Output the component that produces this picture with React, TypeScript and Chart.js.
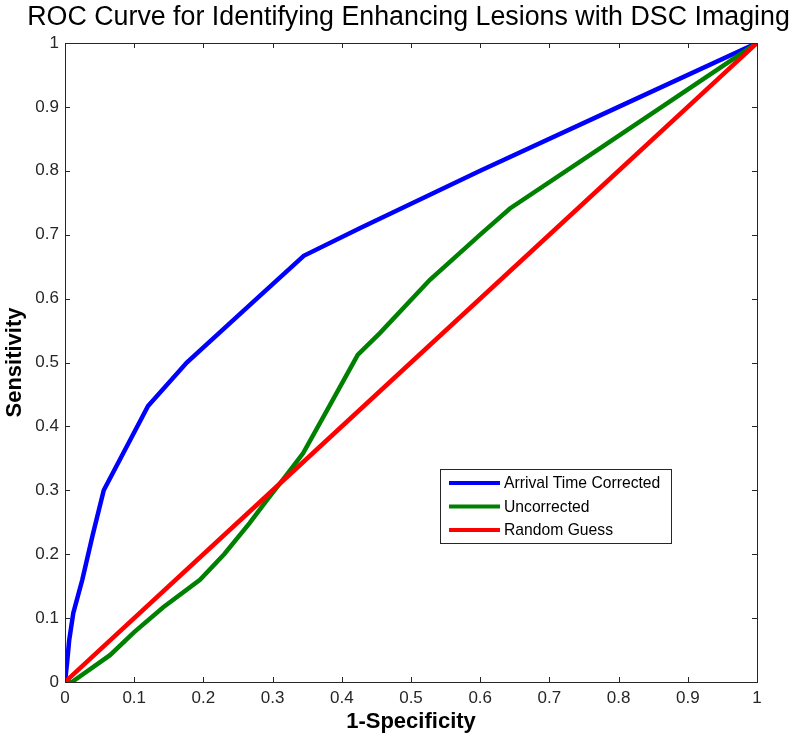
import React, { useEffect, useRef } from "react";
import { Chart, registerables } from "chart.js";

Chart.register(...registerables);

const chartTitle = "ROC Curve for Identifying Enhancing Lesions with DSC Imaging";
const xAxisTitle = "1-Specificity";
const yAxisTitle = "Sensitivity";
const tickLabels = ["0", "0.1", "0.2", "0.3", "0.4", "0.5", "0.6", "0.7", "0.8", "0.9", "1"];

const seriesNames = ["Arrival Time Corrected", "Uncorrected", "Random Guess"];
const seriesColors = ["#0000FF", "#008000", "#FF0000"];

const correctedX = [0, 0.003, 0.006, 0.012, 0.025, 0.04, 0.056, 0.09, 0.12, 0.176, 0.272, 0.345, 0.426, 0.6, 0.8, 1];
const correctedY = [0, 0.03, 0.065, 0.108, 0.16, 0.23, 0.3, 0.37, 0.432, 0.5, 0.595, 0.667, 0.71, 0.8, 0.9, 1];

const uncorrectedX = [0, 0.01, 0.065, 0.1, 0.142, 0.195, 0.23, 0.267, 0.292, 0.318, 0.344, 0.379, 0.423, 0.455, 0.527, 0.6, 0.643, 0.773, 1];
const uncorrectedY = [0, 0, 0.042, 0.078, 0.117, 0.16, 0.2, 0.249, 0.285, 0.321, 0.358, 0.426, 0.512, 0.546, 0.629, 0.7, 0.741, 0.835, 1];

const randomX = [0, 0.25, 0.5, 0.75, 1];
const randomY = [0, 0.25, 0.5, 0.75, 1];

const FONT = "'Liberation Sans', Arial, Helvetica, sans-serif";
const AXIS_COLOR = "#262626";

const toPoints = (xs: number[], ys: number[]) => xs.map((x, i) => ({ x, y: ys[i] }));

const titleShiftPlugin = {
  id: "titleShift",
  afterLayout(chart: any) {
    const tb = chart.titleBlock;
    if (tb) {
      tb.left = 20;
      tb.right = chart.width;
      tb.width = tb.right - tb.left;
    }
  },
};

const boxTicksPlugin = {
  id: "boxTicks",
  afterDatasetsDraw(chart: any) {
    const { ctx, chartArea } = chart;
    const { left, right, top, bottom } = chartArea;
    const xs = chart.scales.x;
    const ys = chart.scales.y;
    ctx.save();
    ctx.strokeStyle = AXIS_COLOR;
    ctx.lineWidth = 1;
    ctx.beginPath();
    ctx.rect(Math.round(left) + 0.5, Math.round(top) + 0.5, Math.round(right - left), Math.round(bottom - top));
    ctx.stroke();
    const len = 5;
    ctx.beginPath();
    for (let i = 0; i < tickLabels.length; i++) {
      const v = Number(tickLabels[i]);
      const px = Math.round(xs.getPixelForValue(v)) + 0.5;
      ctx.moveTo(px, bottom);
      ctx.lineTo(px, bottom - len);
      ctx.moveTo(px, top);
      ctx.lineTo(px, top + len);
      const py = Math.round(ys.getPixelForValue(v)) + 0.5;
      ctx.moveTo(left, py);
      ctx.lineTo(left + len, py);
      ctx.moveTo(right, py);
      ctx.lineTo(right - len, py);
    }
    ctx.stroke();
    ctx.restore();
  },
};

const insideLegendPlugin = {
  id: "insideLegend",
  afterDraw(chart: any) {
    const { ctx, chartArea } = chart;
    const bx = chartArea.left + 375;
    const by = chartArea.top + 426;
    const bw = 231;
    const bh = 74;
    ctx.save();
    ctx.fillStyle = "#FFFFFF";
    ctx.fillRect(bx, by, bw, bh);
    ctx.strokeStyle = AXIS_COLOR;
    ctx.lineWidth = 1;
    ctx.strokeRect(bx + 0.5, by + 0.5, bw, bh);
    ctx.font = `15.7px ${FONT}`;
    ctx.textBaseline = "middle";
    chart.data.datasets.forEach((ds: any, i: number) => {
      const y = by + 14 + i * 23.5;
      ctx.strokeStyle = ds.borderColor;
      ctx.lineWidth = 4;
      ctx.beginPath();
      ctx.moveTo(bx + 9, y);
      ctx.lineTo(bx + 60, y);
      ctx.stroke();
      ctx.fillStyle = "#000000";
      ctx.fillText(ds.label, bx + 64, y + 1);
    });
    ctx.restore();
  },
};

export default function App() {
  const canvasRef = useRef<HTMLCanvasElement | null>(null);

  useEffect(() => {
    if (!canvasRef.current) return;
    const chart = new Chart(canvasRef.current, {
      type: "scatter",
      data: {
        datasets: [
          {
            label: seriesNames[0],
            data: toPoints(correctedX, correctedY),
            borderColor: seriesColors[0],
            backgroundColor: seriesColors[0],
            showLine: true,
            borderWidth: 4.5,
            pointRadius: 0,
            order: 3,
          },
          {
            label: seriesNames[1],
            data: toPoints(uncorrectedX, uncorrectedY),
            borderColor: seriesColors[1],
            backgroundColor: seriesColors[1],
            showLine: true,
            borderWidth: 4.5,
            pointRadius: 0,
            order: 2,
          },
          {
            label: seriesNames[2],
            data: toPoints(randomX, randomY),
            borderColor: seriesColors[2],
            backgroundColor: seriesColors[2],
            showLine: true,
            borderWidth: 4.5,
            pointRadius: 0,
            order: 1,
          },
        ],
      },
      options: {
        responsive: false,
        animation: false,
        layout: { padding: { left: 0, right: 40, top: 0, bottom: 0 } },
        plugins: {
          legend: { display: false },
          tooltip: { enabled: false },
          title: {
            display: true,
            text: chartTitle,
            color: "#000000",
            font: { family: FONT, size: 26.8, weight: "normal" },
            padding: { top: 1.5, bottom: 9.34 },
          },
        },
        scales: {
          x: {
            type: "linear",
            min: 0,
            max: 1,
            afterFit: (scale: any) => {
              scale.height = 60;
            },
            grid: { display: false, drawTicks: false },
            border: { display: true, color: AXIS_COLOR, width: 1 },
            ticks: {
              stepSize: 0.1,
              padding: 6,
              color: AXIS_COLOR,
              font: { family: FONT, size: 17 },
              maxRotation: 0,
              autoSkip: false,
              callback: (_v: any, i: number) => tickLabels[i],
            },
            title: {
              display: true,
              text: xAxisTitle,
              color: "#000000",
              font: { family: FONT, size: 22, weight: "bold" },
              padding: { top: 0, bottom: 7 },
            },
          },
          y: {
            type: "linear",
            min: 0,
            max: 1,
            afterFit: (scale: any) => {
              scale.width = 65;
            },
            grid: { display: false, drawTicks: false },
            border: { display: true, color: AXIS_COLOR, width: 1 },
            ticks: {
              stepSize: 0.1,
              padding: 6,
              color: AXIS_COLOR,
              font: { family: FONT, size: 17 },
              autoSkip: false,
              callback: (_v: any, i: number) => tickLabels[i],
            },
            title: {
              display: true,
              text: yAxisTitle,
              color: "#000000",
              font: { family: FONT, size: 22, weight: "bold" },
              padding: { top: 2, bottom: 0 },
            },
          },
        },
      },
      plugins: [titleShiftPlugin, boxTicksPlugin, insideLegendPlugin],
    } as any);
    return () => chart.destroy();
  }, []);

  return (
    <div style={{ position: "absolute", left: 0, top: 0, width: 797, height: 742, background: "#FFFFFF" }}>
      <canvas ref={canvasRef} width={797} height={742} style={{ width: 797, height: 742, display: "block" }} />
    </div>
  );
}
